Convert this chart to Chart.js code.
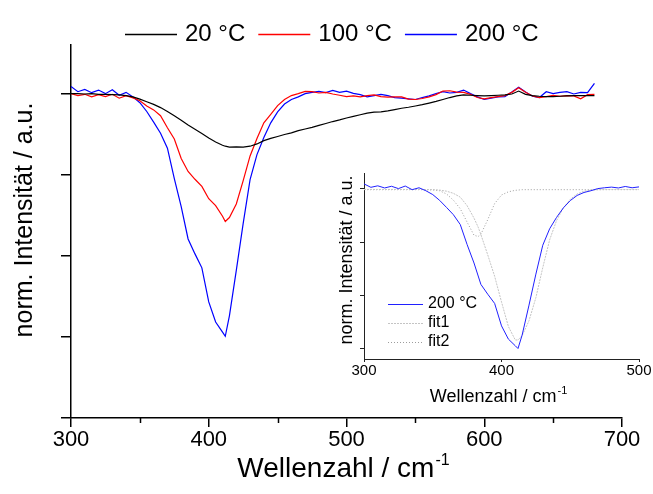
<!DOCTYPE html>
<html>
<head>
<meta charset="utf-8">
<script src="https://cdn.jsdelivr.net/npm/chart.js@4.4.1/dist/chart.umd.min.js"></script>
<style>
  html, body { margin: 0; padding: 0; background: #fff; }
  #wrap { position: relative; width: 653px; height: 494px; }
  #mainChart { position: absolute; left: 0; top: 0; }
  #insetChart { position: absolute; left: 330px; top: 160px; }
</style>
</head>
<body>
<div id="wrap">
  <canvas id="mainChart" width="653" height="494" style="width:653px;height:494px"></canvas>
  <canvas id="insetChart" width="323" height="254" style="width:323px;height:254px"></canvas>
</div>
<script>
// wavenumbers (cm^-1) shared by the three measured spectra
const wavenumbers = [
  300, 305, 310, 315, 320, 325, 330, 335, 340, 345,
  350, 355, 360, 365, 370, 375, 380, 385, 390, 395,
  400, 405, 410, 412, 415, 420, 425, 430, 435, 440,
  445, 450, 455, 460, 465, 470, 475, 480, 485, 490,
  495, 500, 505, 510, 515, 520, 525, 530, 535, 540,
  545, 550, 555, 560, 565, 570, 575, 580, 585, 590,
  595, 600, 605, 610, 615, 620, 625, 630, 635, 640,
  645, 650, 655, 660, 665, 670, 675, 680
];

const spec20 = [
  1.000, 1.000, 0.999, 1.000, 0.998, 0.998, 0.997, 0.996, 0.994, 0.990,
  0.983, 0.975, 0.967, 0.957, 0.945, 0.932, 0.918, 0.903, 0.890, 0.877,
  0.863, 0.851, 0.841, 0.838, 0.835, 0.836, 0.835, 0.838, 0.845, 0.855,
  0.862, 0.868, 0.874, 0.879, 0.886, 0.891, 0.896, 0.902, 0.908, 0.914,
  0.919, 0.925, 0.930, 0.935, 0.940, 0.943, 0.944, 0.947, 0.951, 0.955,
  0.958, 0.962, 0.966, 0.971, 0.976, 0.982, 0.988, 0.993, 0.996, 0.995,
  0.994, 0.993, 0.994, 0.995, 0.996, 0.999, 1.008, 0.998, 0.994, 0.992,
  0.991, 0.991, 0.992, 0.993, 0.994, 0.994, 0.994, 0.994
];

const spec100 = [
  1.000, 0.994, 0.998, 0.990, 0.997, 0.991, 0.998, 0.986, 0.994, 0.987,
  0.978, 0.962, 0.950, 0.932, 0.895, 0.860, 0.800, 0.760, 0.736, 0.714,
  0.676, 0.655, 0.622, 0.606, 0.618, 0.660, 0.732, 0.808, 0.862, 0.910,
  0.936, 0.963, 0.982, 0.994, 1.000, 1.007, 1.006, 1.002, 1.004, 0.999,
  0.995, 0.991, 0.993, 0.990, 0.994, 0.996, 0.991, 0.989, 0.990, 0.990,
  0.983, 0.982, 0.985, 0.990, 0.997, 1.008, 1.009, 1.005, 1.004, 0.998,
  0.988, 0.984, 0.988, 0.991, 0.994, 1.004, 1.018, 1.004, 0.993, 0.988,
  0.991, 0.995, 0.992, 0.994, 0.993, 0.984, 0.997, 0.998
];

const spec200 = [
  1.022, 1.006, 1.013, 1.003, 1.011, 1.000, 1.012, 0.995, 1.004, 0.990,
  0.972, 0.945, 0.912, 0.878, 0.832, 0.738, 0.652, 0.552, 0.506, 0.463,
  0.358, 0.296, 0.265, 0.252, 0.315, 0.455, 0.600, 0.735, 0.812, 0.865,
  0.910, 0.944, 0.968, 0.982, 0.990, 1.000, 1.004, 1.007, 1.003, 1.010,
  1.004, 1.008, 1.001, 0.997, 0.990, 0.994, 0.998, 0.994, 0.988, 0.986,
  0.984, 0.982, 0.988, 0.993, 1.000, 1.006, 1.002, 1.004, 1.011, 1.000,
  0.990, 0.982, 0.986, 0.990, 0.991, 1.005, 1.020, 1.005, 0.992, 0.988,
  1.006, 1.000, 1.004, 1.006, 0.999, 1.004, 1.003, 1.032
];

// two-band fit of the 200 °C spectrum
const wavenumbersFit = [
  300, 310, 320, 330, 340, 350, 355, 360, 365, 370,
  375, 380, 383, 385, 390, 395, 400, 405, 410, 412,
  415, 420, 425, 430, 435, 440, 445, 450, 455, 460,
  465, 470, 480, 490, 500
];
const fit1 = [
  0.996, 0.996, 0.996, 0.996, 0.996, 0.995, 0.993, 0.988, 0.978, 0.960,
  0.920, 0.862, 0.820, 0.785, 0.690, 0.590, 0.470, 0.355, 0.292, 0.292,
  0.312, 0.382, 0.490, 0.630, 0.760, 0.850, 0.910, 0.950, 0.975, 0.988,
  0.993, 0.995, 0.996, 0.996, 0.996
];
const fit2 = [
  0.995, 0.995, 0.995, 0.995, 0.995, 0.994, 0.990, 0.975, 0.946, 0.906,
  0.843, 0.782, 0.776, 0.786, 0.855, 0.930, 0.970, 0.985, 0.992, 0.993,
  0.995, 0.995, 0.995, 0.995, 0.995, 0.995, 0.995, 0.995, 0.995, 0.995,
  0.995, 0.995, 0.995, 0.995, 0.995
];

const xTicksMain = [300, 400, 500, 600, 700];
const xMinorMain = [350, 450, 550, 650];
const yTicksMain = [0, 0.25, 0.5, 0.75, 1.0];
const xTicksInset = [300, 400, 500];
const yTicksInset = [0.25, 0.5, 0.75, 1.0];

const xTitle = 'Wellenzahl / cm';
const xTitleSup = '-1';
const yTitle = 'norm. Intensität / a.u.';

const FONT = '"Liberation Sans", Arial, sans-serif';
Chart.defaults.font.family = FONT;
Chart.defaults.color = '#000';

function points(xs, ys) {
  return xs.map((x, i) => ({ x: x, y: ys[i] }));
}

function fixTicks(values) {
  return function (scale) {
    scale.ticks = values.map(v => ({ value: v }));
  };
}

// axis titles drawn by hand so the x title can carry a superscript
const axisTitles = {
  id: 'axisTitles',
  afterDraw(chart, args, o) {
    const ctx = chart.ctx;
    ctx.save();
    ctx.fillStyle = '#000';
    ctx.textAlign = 'left';
    ctx.textBaseline = 'alphabetic';
    ctx.font = o.xSize + 'px ' + FONT;
    const w1 = ctx.measureText(xTitle).width;
    ctx.font = o.supSize + 'px ' + FONT;
    const w2 = ctx.measureText(xTitleSup).width;
    const x0 = o.xCenter - (w1 + w2) / 2;
    ctx.font = o.xSize + 'px ' + FONT;
    ctx.fillText(xTitle, x0, o.xBaseline);
    ctx.font = o.supSize + 'px ' + FONT;
    ctx.fillText(xTitleSup, x0 + w1 + 1, o.xBaseline - o.supRise);

    ctx.translate(o.yX, o.yY);
    ctx.rotate(-Math.PI / 2);
    ctx.textAlign = 'center';
    ctx.textBaseline = 'middle';
    ctx.font = o.ySize + 'px ' + FONT;
    ctx.fillText(yTitle, 0, 0);
    ctx.restore();
  }
};

// short minor ticks between the labelled ones on the main x axis
const minorTicks = {
  id: 'minorTicks',
  afterDraw(chart) {
    const ctx = chart.ctx;
    const xs = chart.scales.x;
    const yb = chart.chartArea.bottom;
    ctx.save();
    ctx.strokeStyle = '#000';
    ctx.lineWidth = 1.5;
    xMinorMain.forEach(v => {
      const px = Math.round(xs.getPixelForValue(v)) + 0.5;
      ctx.beginPath();
      ctx.moveTo(px, yb);
      ctx.lineTo(px, yb + 5);
      ctx.stroke();
    });
    ctx.restore();
  }
};

// legend with line samples, laid out in a row or a column
const lineLegend = {
  id: 'lineLegend',
  afterDraw(chart, args, o) {
    const ctx = chart.ctx;
    ctx.save();
    ctx.font = o.size + 'px ' + FONT;
    ctx.textBaseline = 'middle';
    ctx.textAlign = 'left';
    let x = o.x;
    let y = o.y;
    chart.data.datasets.forEach(ds => {
      const yy = Math.round(y) + 0.5;
      ctx.strokeStyle = ds.borderColor;
      ctx.lineWidth = o.lineWidth || ds.borderWidth;
      ctx.setLineDash(ds.borderDash || []);
      ctx.beginPath();
      ctx.moveTo(x, yy);
      ctx.lineTo(x + o.lineLen, yy);
      ctx.stroke();
      ctx.setLineDash([]);
      ctx.fillStyle = '#000';
      ctx.fillText(ds.label, x + o.lineLen + o.gap, y);
      if (o.row) {
        x += o.lineLen + o.gap + ctx.measureText(ds.label).width + o.itemGap;
      } else {
        y += o.rowGap;
      }
    });
    ctx.restore();
  }
};

function lineSet(label, xs, ys, color, width, dash) {
  return {
    label: label,
    data: points(xs, ys),
    borderColor: color,
    backgroundColor: color,
    borderWidth: width,
    borderDash: dash || [],
    pointRadius: 0,
    tension: 0,
    fill: false
  };
}

new Chart(document.getElementById('mainChart'), {
  type: 'line',
  data: {
    datasets: [
      lineSet('20 °C', wavenumbers, spec20, '#000000', 1.2),
      lineSet('100 °C', wavenumbers, spec100, '#ff0000', 1.2),
      lineSet('200 °C', wavenumbers, spec200, '#0000ff', 1.2)
    ]
  },
  options: {
    responsive: false,
    animation: false,
    layout: { padding: { top: 45, right: 31, bottom: 0, left: 0 } },
    scales: {
      x: {
        type: 'linear',
        min: 300,
        max: 700,
        afterBuildTicks: fixTicks(xTicksMain),
        afterFit(s) { s.height = 76; },
        grid: { drawOnChartArea: false, drawTicks: true, tickLength: 9, color: '#000', lineWidth: 1.5 },
        border: { display: true, color: '#000', width: 1.5 },
        ticks: { font: { size: 22 }, padding: 0, maxRotation: 0, callback: v => String(v) }
      },
      y: {
        type: 'linear',
        min: 0,
        max: 1.15,
        afterBuildTicks: fixTicks(yTicksMain),
        afterFit(s) { s.width = 71; },
        grid: { drawOnChartArea: false, drawTicks: true, tickLength: 10, color: '#000', lineWidth: 1.5 },
        border: { display: true, color: '#000', width: 1.5 },
        ticks: { display: false }
      }
    },
    plugins: {
      legend: { display: false },
      tooltip: { enabled: false },
      axisTitles: { xCenter: 343, xBaseline: 477, xSize: 28, supSize: 16, supRise: 12, yX: 25, yY: 220, ySize: 25 },
      lineLegend: { row: true, x: 125, y: 34, lineLen: 52, gap: 8, itemGap: 13, size: 24, lineWidth: 1.4 }
    }
  },
  plugins: [axisTitles, minorTicks, lineLegend]
});

new Chart(document.getElementById('insetChart'), {
  type: 'line',
  data: {
    datasets: [
      lineSet('200 °C', wavenumbers, spec200, '#2020ff', 1),
      lineSet('fit1', wavenumbersFit, fit1, '#c4c4c4', 1, [2, 1]),
      lineSet('fit2', wavenumbersFit, fit2, '#9c9c9c', 1, [1, 2])
    ]
  },
  options: {
    responsive: false,
    animation: false,
    layout: { padding: { top: 13, right: 14, bottom: 0, left: 0 } },
    scales: {
      x: {
        type: 'linear',
        min: 300,
        max: 500,
        afterBuildTicks: fixTicks(xTicksInset),
        afterFit(s) { s.height = 55; },
        grid: { drawOnChartArea: false, drawTicks: true, tickLength: 3, color: '#222', lineWidth: 1 },
        border: { display: true, color: '#222', width: 1 },
        ticks: { font: { size: 15 }, padding: 0, maxRotation: 0, callback: v => String(v) }
      },
      y: {
        type: 'linear',
        min: 0.203,
        max: 1.073,
        afterBuildTicks: fixTicks(yTicksInset),
        afterFit(s) { s.width = 34; },
        grid: { drawOnChartArea: false, drawTicks: true, tickLength: 4, color: '#222', lineWidth: 1 },
        border: { display: true, color: '#222', width: 1 },
        ticks: { display: false }
      }
    },
    plugins: {
      legend: { display: false },
      tooltip: { enabled: false },
      axisTitles: { xCenter: 168, xBaseline: 242, xSize: 18, supSize: 11, supRise: 8, yX: 17, yY: 100, ySize: 18 },
      lineLegend: { row: false, x: 58, y: 144, rowGap: 19, lineLen: 35, gap: 5, size: 16 }
    }
  },
  plugins: [axisTitles, lineLegend]
});
</script>
</body>
</html>
